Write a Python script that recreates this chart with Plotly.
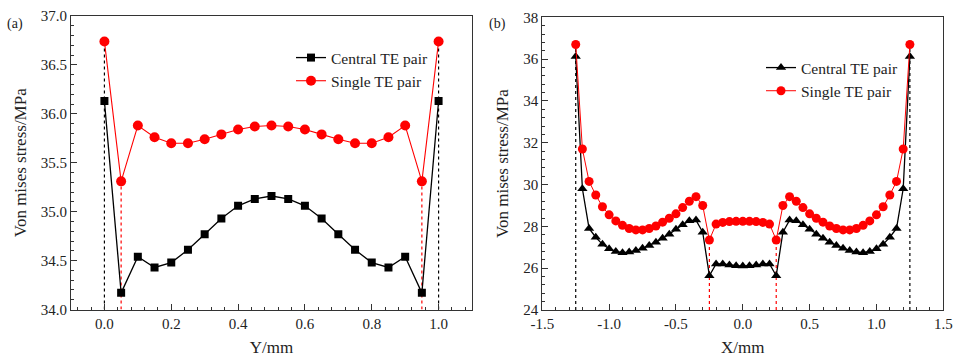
import plotly.graph_objects as go

# ---------------- data: panel (a) ----------------
y_mm = [0.00, 0.05, 0.10, 0.15, 0.20, 0.25, 0.30, 0.35, 0.40, 0.45, 0.50,
        0.55, 0.60, 0.65, 0.70, 0.75, 0.80, 0.85, 0.90, 0.95, 1.00]
a_central = [36.13, 34.17, 34.54, 34.43, 34.48, 34.61, 34.77, 34.93, 35.06, 35.13, 35.16,
             35.13, 35.06, 34.93, 34.77, 34.61, 34.48, 34.43, 34.54, 34.17, 36.13]
a_single = [36.74, 35.31, 35.88, 35.76, 35.70, 35.70, 35.74, 35.79, 35.84, 35.87, 35.88,
            35.87, 35.84, 35.79, 35.74, 35.70, 35.70, 35.76, 35.88, 35.31, 36.74]

# ---------------- data: panel (b) ----------------
x_mm = [-1.25, -1.20, -1.15, -1.10, -1.05, -1.00, -0.95, -0.90, -0.85, -0.80,
        -0.75, -0.70, -0.65, -0.60, -0.55, -0.50, -0.45, -0.40, -0.35, -0.30,
        -0.25, -0.20, -0.15, -0.10, -0.05, 0.00, 0.05, 0.10, 0.15, 0.20,
        0.25, 0.30, 0.35, 0.40, 0.45, 0.50, 0.55, 0.60, 0.65, 0.70,
        0.75, 0.80, 0.85, 0.90, 0.95, 1.00, 1.05, 1.10, 1.15, 1.20, 1.25]
b_central = [36.12, 29.80, 27.90, 27.48, 27.14, 26.93, 26.80, 26.74, 26.77, 26.84,
             26.95, 27.08, 27.24, 27.43, 27.62, 27.86, 28.08, 28.27, 28.30, 27.72,
             25.64, 26.20, 26.20, 26.15, 26.12, 26.10, 26.12, 26.15, 26.20, 26.20,
             25.64, 27.72, 28.30, 28.27, 28.08, 27.86, 27.62, 27.43, 27.24, 27.08,
             26.95, 26.84, 26.77, 26.74, 26.80, 26.93, 27.14, 27.48, 27.90, 29.80, 36.12]
b_single = [36.70, 31.70, 30.15, 29.50, 28.94, 28.55, 28.26, 28.05, 27.90, 27.83,
            27.83, 27.90, 28.02, 28.20, 28.39, 28.60, 28.90, 29.20, 29.42, 29.00,
            27.35, 28.11, 28.19, 28.23, 28.24, 28.24, 28.24, 28.23, 28.19, 28.11,
            27.35, 29.00, 29.42, 29.20, 28.90, 28.60, 28.39, 28.20, 28.02, 27.90,
            27.83, 27.83, 27.90, 28.05, 28.26, 28.55, 28.94, 29.50, 30.15, 31.70, 36.70]

series_names = ["Central TE pair", "Single TE pair"]
a_yrange = [34.0, 37.0]
b_yrange = [24.0, 38.0]
b_xtick_vals = [-1.5, -1.0, -0.5, 0.0, 0.5, 1.0, 1.5]
b_xtick_text = ["-1.5", "-1.0", "-0.5", "0.0", "0.5", "1.0", "1.5"]

SERIF = "Liberation Serif"
BLACK = "#000000"
RED = "#ff0000"
W, H = 953, 357

fig = go.Figure()

def vline(x, ytop, ybase, color, xa, ya):
    fig.add_trace(go.Scatter(x=[x, x], y=[ybase, ytop], mode="lines",
                             line=dict(color=color, width=1.2, dash="dot"),
                             showlegend=False, hoverinfo="skip", xaxis=xa, yaxis=ya))

# panel (a) guide lines
vline(y_mm[0], a_single[0], a_yrange[0], BLACK, "x", "y")
vline(y_mm[-1], a_single[-1], a_yrange[0], BLACK, "x", "y")
vline(y_mm[1], a_single[1], a_yrange[0], RED, "x", "y")
vline(y_mm[-2], a_single[-2], a_yrange[0], RED, "x", "y")
# panel (b) guide lines
vline(x_mm[0], b_single[0], b_yrange[0], BLACK, "x2", "y2")
vline(x_mm[-1], b_single[-1], b_yrange[0], BLACK, "x2", "y2")
i_l = x_mm.index(-0.25)
i_r = x_mm.index(0.25)
vline(x_mm[i_l], b_single[i_l], b_yrange[0], RED, "x2", "y2")
vline(x_mm[i_r], b_single[i_r], b_yrange[0], RED, "x2", "y2")

fig.add_trace(go.Scatter(x=y_mm, y=a_central, name=series_names[0], mode="lines+markers",
                         line=dict(color=BLACK, width=1.3),
                         marker=dict(symbol="square", size=8, color=BLACK),
                         xaxis="x", yaxis="y", legend="legend"))
fig.add_trace(go.Scatter(x=y_mm, y=a_single, name=series_names[1], mode="lines+markers",
                         line=dict(color=RED, width=1.1),
                         marker=dict(symbol="circle", size=10, color=RED),
                         xaxis="x", yaxis="y", legend="legend"))
fig.add_trace(go.Scatter(x=x_mm, y=b_central, name=series_names[0], mode="lines+markers",
                         line=dict(color=BLACK, width=1.3),
                         marker=dict(symbol="triangle-up", size=9, color=BLACK),
                         xaxis="x2", yaxis="y2", legend="legend2"))
fig.add_trace(go.Scatter(x=x_mm, y=b_single, name=series_names[1], mode="lines+markers",
                         line=dict(color=RED, width=1.0),
                         marker=dict(symbol="circle", size=9, color=RED),
                         xaxis="x2", yaxis="y2", legend="legend2"))

def px_x(p):
    return p / W

def px_y(p):
    return 1 - p / H

axis_common = dict(showline=True, linecolor="#333", linewidth=1, mirror=True,
                   ticks="inside", ticklen=6, tickcolor="#333", tickwidth=1,
                   showgrid=False, zeroline=False, automargin=False,
                   tickfont=dict(family=SERIF, size=15, color="#222"),
                   title_font=dict(family=SERIF, size=17, color="#222"))

fig.update_layout(
    width=W, height=H,
    paper_bgcolor="white", plot_bgcolor="white",
    margin=dict(l=0, r=0, t=0, b=0),
    xaxis=dict(domain=[px_x(71), px_x(472)], range=[-0.1, 1.1], dtick=0.2, tick0=0,
               tickformat=".1f", anchor="y",
               minor=dict(ticks="inside", dtick=0.04, tick0=0, ticklen=3, tickcolor="#333"),
               title=dict(text="Y/mm", standoff=11), **axis_common),
    yaxis=dict(domain=[px_y(309.5), px_y(16)], range=a_yrange, dtick=0.5, tick0=34,
               tickformat=".1f", anchor="x",
               minor=dict(ticks="inside", dtick=0.1, tick0=34, ticklen=3, tickcolor="#333"),
               title=dict(text="Von mises stress/MPa", standoff=9), **axis_common),
    xaxis2=dict(domain=[px_x(542.3), px_x(943.3)], range=[-1.5, 1.5],
                tickmode="array", tickvals=b_xtick_vals, ticktext=b_xtick_text,
                anchor="y2",
                minor=dict(ticks="inside", dtick=0.1, tick0=0, ticklen=3, tickcolor="#333"),
                title=dict(text="X/mm", standoff=10), **axis_common),
    yaxis2=dict(domain=[px_y(310), px_y(17.3)], range=b_yrange, dtick=2, tick0=24,
                anchor="x2",
                minor=dict(ticks="inside", dtick=0.4, tick0=24, ticklen=3, tickcolor="#333"),
                title=dict(text="Von mises stress/MPa", standoff=10), **axis_common),
    legend=dict(x=px_x(291), y=px_y(41), xanchor="left", yanchor="top",
                bgcolor="rgba(0,0,0,0)", tracegroupgap=0,
                font=dict(family=SERIF, size=15.5, color="#222")),
    legend2=dict(x=px_x(761), y=px_y(51), xanchor="left", yanchor="top",
                 bgcolor="rgba(0,0,0,0)", tracegroupgap=0,
                 font=dict(family=SERIF, size=15.5, color="#222")),
    annotations=[
        dict(text="(a)", x=px_x(5), y=px_y(24), xref="paper", yref="paper",
             xanchor="left", yanchor="middle", showarrow=False,
             font=dict(family=SERIF, size=14, color="#222")),
        dict(text="(b)", x=px_x(487), y=px_y(24), xref="paper", yref="paper",
             xanchor="left", yanchor="middle", showarrow=False,
             font=dict(family=SERIF, size=14, color="#222")),
    ],
)

fig.write_html("out.html", config={"displayModeBar": False},
               post_script="document.body.style.margin='0';document.body.style.overflow='hidden';")
